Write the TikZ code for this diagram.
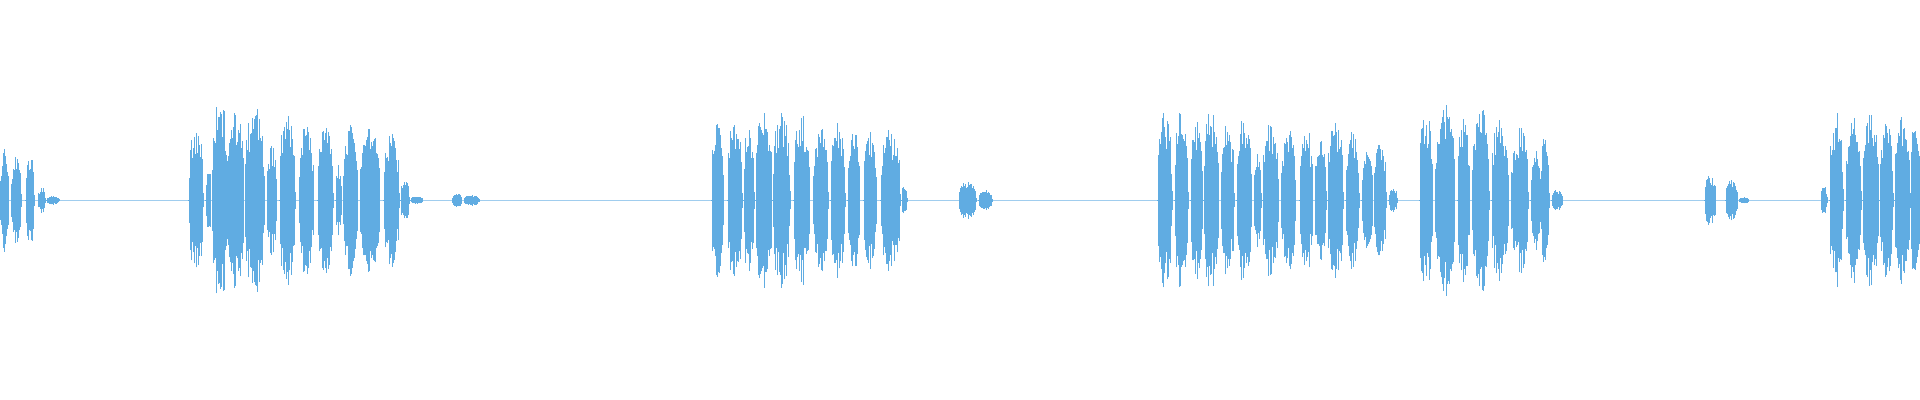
\documentclass[tikz,border=0pt]{standalone}
\definecolor{wave}{RGB}{96,172,226}
\newcommand\burst[3]{%
  \pgfmathsetmacro\bsec{#1+0.5}%
  \foreach \x in {#1,\bsec,...,#2} {%
    \pgfmathsetmacro\h{#3*(0.55+0.45*rnd)*abs(sin(180*(\x-#1)/(#2-#1+0.01)))^0.35+0.5}%
    \draw (\x,163-\h) -- (\x,163+\h);
  }}
\begin{document}
\begin{tikzpicture}[x=1.2245pt,y=1.2245pt,line width=0.5pt,draw=wave]
\useasboundingbox (0,0) rectangle (1568,326.6);
\pgfmathsetseed{7}
\draw[wave,line width=0.3pt,opacity=0.6] (0,163) -- (1568,163);
\begin{scope}[wave]
% left edge
\burst{0}{7}{42}\burst{9}{17}{38}\burst{21}{28}{36}\burst{31}{37}{10}\burst{38}{48}{3}
% burst group 1
\burst{154}{166}{62}\burst{168}{172}{30}\burst{173}{186}{88}\burst{186}{199}{80}\burst{200}{216}{78}
\burst{218}{226}{45}\burst{228}{241}{70}\burst{244}{256}{62}\burst{259}{272}{62}\burst{274}{279}{30}
\burst{280}{292}{62}\burst{294}{310}{60}\burst{313}{326}{56}\burst{327}{334}{20}\burst{335}{345}{3}
\burst{369}{377}{5}\burst{379}{391}{4}
% group 2
\burst{581}{591}{65}\burst{594}{606}{68}\burst{607}{616}{64}\burst{617}{630}{82}\burst{631}{645}{72}
\burst{648}{661}{70}\burst{664}{676}{62}\burst{678}{690}{65}\burst{692}{702}{60}\burst{705}{716}{58}
\burst{719}{735}{58}\burst{736}{741}{12}
\burst{783}{797}{16}\burst{799}{810}{8}
% group 3
\burst{945}{957}{72}\burst{959}{970}{75}\burst{972}{982}{66}\burst{983}{995}{76}\burst{997}{1008}{65}
\burst{1010}{1022}{70}\burst{1024}{1030}{40}\burst{1031}{1044}{64}\burst{1046}{1058}{60}\burst{1061}{1072}{60}
\burst{1074}{1083}{56}\burst{1084}{1097}{64}\burst{1099}{1110}{58}\burst{1112}{1121}{40}\burst{1122}{1132}{50}
\burst{1134}{1141}{10}
% group 4
\burst{1159}{1170}{75}\burst{1172}{1188}{82}\burst{1190}{1200}{68}\burst{1202}{1216}{76}\burst{1218}{1232}{68}
\burst{1234}{1248}{60}\burst{1250}{1258}{40}\burst{1258}{1265}{55}\burst{1267}{1276}{8}
\burst{1392}{1401}{22}\burst{1409}{1419}{16}\burst{1420}{1428}{2}
% right edge
\burst{1487}{1492}{12}\burst{1494}{1505}{72}\burst{1507}{1520}{68}\burst{1521}{1534}{70}\burst{1535}{1546}{64}\burst{1547}{1560}{72}\burst{1560}{1568}{66}
\end{scope}
\end{tikzpicture}
\end{document}
